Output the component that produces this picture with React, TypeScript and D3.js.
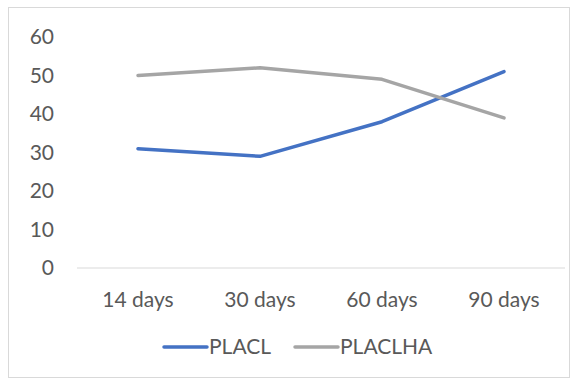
import React from "react";
import * as d3 from "d3";

const categories = ["14 days", "30 days", "60 days", "90 days"];
const placl = [31, 29, 38, 51];
const placlha = [50, 52, 49, 39];
const yTicks = [0, 10, 20, 30, 40, 50, 60];
const seriesNames = ["PLACL", "PLACLHA"];

const W = 578;
const H = 381;
const FONT = "Lato, 'Liberation Sans', sans-serif";
const TEXT = "#595959";
const FS = 21;

export default function App() {
  const x = d3.scaleBand<string>().domain(categories).range([77, 565]);
  const y = d3.scaleLinear().domain([0, 60]).range([268, 37]);
  const line = d3
    .line<number>()
    .x((_, i) => (x(categories[i]) as number) + x.bandwidth() / 2)
    .y((d) => y(d));

  const series = [
    { name: seriesNames[0], values: placl, color: "#4472C4" },
    { name: seriesNames[1], values: placlha, color: "#A5A5A5" },
  ];
  const legendX = [164, 295];

  return (
    <svg
      width={W}
      height={H}
      style={{ position: "absolute", left: 0, top: 0, background: "#fff" }}
      fontFamily={FONT}
    >
      <rect x={8.5} y={7.5} width={561} height={370} fill="#fff" stroke="#d9d9d9" />
      <line x1={77} x2={565} y1={y(0)} y2={y(0)} stroke="#d9d9d9" strokeWidth={1} />
      {yTicks.map((t) => (
        <text key={t} x={54} y={y(t)} dy="0.35em" textAnchor="end" fontSize={FS} fill={TEXT}>
          {t}
        </text>
      ))}
      {categories.map((c) => (
        <text
          key={c}
          x={(x(c) as number) + x.bandwidth() / 2}
          y={300}
          dy="0.35em"
          textAnchor="middle"
          fontSize={FS}
          fill={TEXT}
        >
          {c}
        </text>
      ))}
      {series.map((s) => (
        <path
          key={s.name}
          d={line(s.values) as string}
          fill="none"
          stroke={s.color}
          strokeWidth={3.5}
          strokeLinecap="round"
          strokeLinejoin="round"
        />
      ))}
      {series.map((s, i) => (
        <g key={s.name} transform={`translate(${legendX[i]},347)`}>
          <line x1={0} x2={43} y1={0} y2={0} stroke={s.color} strokeWidth={3.5} strokeLinecap="round" />
          <text x={45} y={0} dy="0.35em" fontSize={FS} fill={TEXT}>
            {s.name}
          </text>
        </g>
      ))}
    </svg>
  );
}
